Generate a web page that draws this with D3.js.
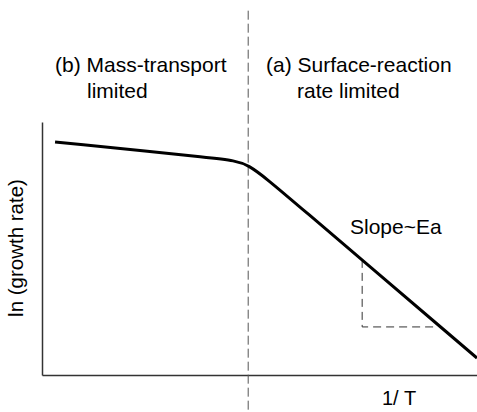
<!DOCTYPE html>
<html>
<head>
<meta charset="utf-8">
<script src="https://cdn.jsdelivr.net/npm/d3@7"></script>
<style>
  body { margin: 0; background: #fff; }
  text { font-family: 'Liberation Sans', Arial, Helvetica, sans-serif; fill: #000; }
</style>
</head>
<body>
<div id="chart"></div>
<script>
var width = 477;
var height = 412;

// data (arbitrary units: x = 1/T, y = ln growth rate)
var curveX = [0.3, 4.2, 4.71, 5.55, 10];
var curveY = [9.21, 8.53, 8.42, 7.2, 0.67];
var boundaryX = 4.74;
var boundaryY = [14.4, -1.5];
var slopeX = [7.36, 9.10];
var slopeY = [4.55, 1.90];

var regionLabels = [
    ['(b) Mass-transport', 'limited'],
    ['(a) Surface-reaction', 'rate limited']
];
var xLabel = '1/ T';
var yLabel = 'ln (growth rate)';
var slopeLabel = 'Slope~Ea';

var svg = d3.select('#chart').append('svg')
    .attr('width', width)
    .attr('height', height);

var xScale = d3.scaleLinear()
    .domain([0, 10])
    .range([42, 477]);

var yScale = d3.scaleLinear()
    .domain([0, 10])
    .range([375, 122]);

// axes, no ticks
svg.append('g')
    .attr('transform', `translate(0, ${yScale(0)})`)
    .call(d3.axisBottom(xScale).tickValues([]).tickSizeOuter(0))
    .select('.domain')
    .attr('stroke', '#333')
    .attr('stroke-width', 1.5);

svg.append('g')
    .attr('transform', `translate(${xScale(0)}, 0)`)
    .call(d3.axisLeft(yScale).tickValues([]).tickSizeOuter(0))
    .select('.domain')
    .attr('stroke', '#333')
    .attr('stroke-width', 1.5);

// regime boundary
svg.append('line')
    .attr('x1', xScale(boundaryX))
    .attr('x2', xScale(boundaryX))
    .attr('y1', yScale(boundaryY[0]))
    .attr('y2', yScale(boundaryY[1]))
    .attr('stroke', '#555')
    .attr('stroke-width', 1)
    .attr('stroke-dasharray', '9,4');

// slope triangle
var tri = [[slopeX[0], slopeY[0]], [slopeX[0], slopeY[1]], [slopeX[1], slopeY[1]]];
svg.append('path')
    .attr('d', d3.line().x(d => xScale(d[0])).y(d => yScale(d[1]))(tri))
    .attr('fill', 'none')
    .attr('stroke', '#333')
    .attr('stroke-width', 1)
    .attr('stroke-dasharray', '8,5');

// growth rate curve
var pts = curveX.map((x, i) => [x, curveY[i]]);
svg.append('path')
    .attr('d', d3.line()
        .x(d => xScale(d[0]))
        .y(d => yScale(d[1]))
        .curve(d3.curveBasis)(pts))
    .attr('fill', 'none')
    .attr('stroke', '#000')
    .attr('stroke-width', 3);

// labels
var labelPos = [[55, 87], [266, 297]];
regionLabels.forEach(function (lines, i) {
    svg.append('text')
        .attr('x', labelPos[i][0])
        .attr('y', 72)
        .style('font-size', '21px')
        .text(lines[0]);
    svg.append('text')
        .attr('x', labelPos[i][1])
        .attr('y', 98)
        .style('font-size', '21px')
        .text(lines[1]);
});

svg.append('text')
    .attr('x', 350)
    .attr('y', 234)
    .style('font-size', '21px')
    .text(slopeLabel);

svg.append('text')
    .attr('x', 382)
    .attr('y', 405)
    .style('font-size', '20px')
    .text(xLabel);

svg.append('text')
    .attr('transform', 'translate(23, 248) rotate(-90)')
    .attr('text-anchor', 'middle')
    .style('font-size', '20.5px')
    .text(yLabel);
</script>
</body>
</html>
